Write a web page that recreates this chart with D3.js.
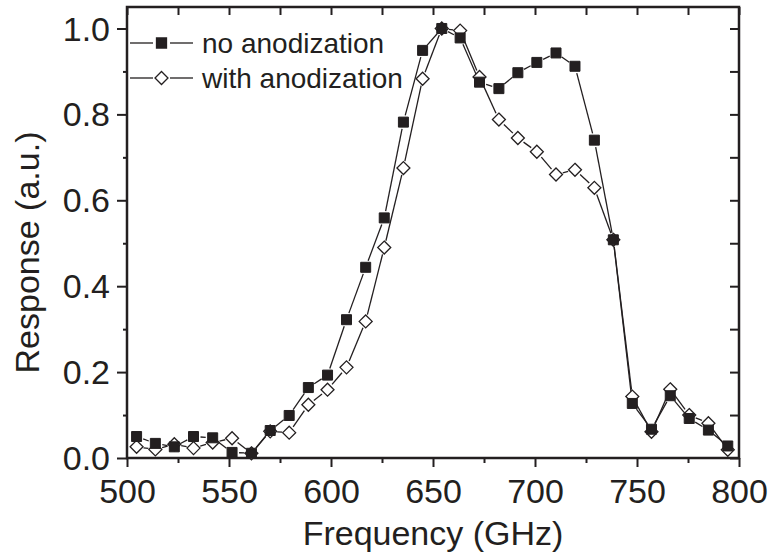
<!DOCTYPE html>
<html>
<head>
<meta charset="utf-8">
<script src="https://cdn.jsdelivr.net/npm/d3@7"></script>
<style>
  html, body { margin: 0; padding: 0; background: #fff; }
  svg { display: block; }
  text { font-family: "Liberation Sans", Arial, Helvetica, sans-serif; fill: #231f20; }
</style>
</head>
<body>
<svg id="chart" width="771" height="555"></svg>
<script>
// Measured frequencies (GHz)
const frequency = [504.7, 513.9, 523.2, 532.6, 542.0, 551.5, 561.0, 570.2, 579.5, 588.9,
  598.3, 607.6, 617.0, 626.1, 635.5, 644.9, 654.3, 663.3, 672.8, 682.3,
  691.6, 700.9, 710.3, 719.6, 729.1, 738.4, 747.7, 757.1, 766.3, 775.6,
  785.0, 794.5];

// Normalised response without anodization
const noAnodization = [0.050, 0.034, 0.026, 0.050, 0.047, 0.013, 0.011, 0.064, 0.099, 0.164,
  0.193, 0.322, 0.444, 0.559, 0.782, 0.949, 1.000, 0.978, 0.875, 0.860,
  0.897, 0.921, 0.943, 0.912, 0.740, 0.508, 0.127, 0.067, 0.145, 0.092,
  0.065, 0.028];

// Normalised response with anodization
const withAnodization = [0.026, 0.020, 0.032, 0.023, 0.036, 0.046, 0.011, 0.062, 0.059, 0.124,
  0.159, 0.211, 0.318, 0.490, 0.675, 0.883, 1.000, 0.995, 0.887, 0.788,
  0.745, 0.713, 0.660, 0.671, 0.629, 0.508, 0.143, 0.061, 0.160, 0.100,
  0.081, 0.019];

const seriesNames = ["no anodization", "with anodization"];
const xTickLabels = [500, 550, 600, 650, 700, 750, 800];
const yTickLabels = [0.0, 0.2, 0.4, 0.6, 0.8, 1.0];

const ink = "#231f20";
const svg = d3.select("#chart");
const plot = { left: 127, right: 739, top: 7, bottom: 458 };

const x = d3.scaleLinear().domain([500, 800]).range([plot.left, plot.right]);
const y = d3.scaleLinear().domain([0, 1.05]).range([plot.bottom, plot.top]);

const minorX = d3.range(500, 800.1, 25);
const minorY = d3.range(0, 1.001, 0.1).map(v => +v.toFixed(1));
const isYLabel = d => yTickLabels.some(v => Math.abs(v - d) < 1e-9);

// Bottom axis: long outward ticks at labels, short ones in between
const axisBottomG = svg.append("g").attr("transform", `translate(0,${plot.bottom})`);
axisBottomG.call(d3.axisBottom(x).tickValues(minorX).tickSize(5).tickFormat(""));
axisBottomG.selectAll(".tick line").filter(d => xTickLabels.includes(d)).attr("y2", 9);
axisBottomG.selectAll(".tick line").attr("stroke", ink).attr("stroke-width", 2);
axisBottomG.select(".domain").remove();
axisBottomG.selectAll(".tick").filter(d => xTickLabels.includes(d))
  .append("text")
  .attr("y", 45).attr("text-anchor", "middle")
  .style("font-size", "34px")
  .text(d => d3.format("d")(d));

// Left axis
const axisLeftG = svg.append("g").attr("transform", `translate(${plot.left},0)`);
axisLeftG.call(d3.axisLeft(y).tickValues(minorY).tickSize(4).tickFormat(""));
axisLeftG.selectAll(".tick line").filter(isYLabel).attr("x2", -10);
axisLeftG.selectAll(".tick line").attr("stroke", ink).attr("stroke-width", 2);
axisLeftG.select(".domain").remove();
axisLeftG.selectAll(".tick").filter(isYLabel)
  .append("text")
  .attr("x", -17).attr("dy", "0.34em").attr("text-anchor", "end")
  .style("font-size", "34px")
  .text(d => d3.format(".1f")(d));

// Top and right axes: inward ticks only
const axisTopG = svg.append("g").attr("transform", `translate(0,${plot.top})`);
axisTopG.call(d3.axisBottom(x).tickValues(minorX).tickSize(8).tickFormat(""));
axisTopG.selectAll(".tick line").attr("stroke", ink).attr("stroke-width", 2);
axisTopG.select(".domain").remove();

const axisRightG = svg.append("g").attr("transform", `translate(${plot.right},0)`);
axisRightG.call(d3.axisLeft(y).tickValues(minorY).tickSize(9).tickFormat(""));
axisRightG.selectAll(".tick line").attr("stroke", ink).attr("stroke-width", 2);
axisRightG.select(".domain").remove();

// Frame
svg.append("rect")
  .attr("x", plot.left).attr("y", plot.top)
  .attr("width", plot.right - plot.left).attr("height", plot.bottom - plot.top)
  .attr("fill", "none").attr("stroke", ink).attr("stroke-width", 2.5);

// Axis titles
svg.append("text")
  .attr("x", (plot.left + plot.right) / 2).attr("y", 545)
  .attr("text-anchor", "middle").style("font-size", "34px")
  .text("Frequency (GHz)");
svg.append("text")
  .attr("transform", `translate(39,${(plot.top + plot.bottom) / 2 + 20}) rotate(-90)`)
  .attr("text-anchor", "middle").style("font-size", "34px")
  .text("Response (a.u.)");

// Connecting segments, trimmed so they stop short of each marker
function drawSegments(values, gap) {
  const pts = frequency.map((f, i) => [x(f), y(values[i])]);
  const segs = [];
  for (let i = 0; i < pts.length - 1; i++) {
    const [x0, y0] = pts[i], [x1, y1] = pts[i + 1];
    const len = Math.hypot(x1 - x0, y1 - y0);
    if (len <= 2 * gap) continue;
    const ux = (x1 - x0) / len, uy = (y1 - y0) / len;
    segs.push([x0 + ux * gap, y0 + uy * gap, x1 - ux * gap, y1 - uy * gap]);
  }
  svg.append("g").selectAll("line").data(segs).join("line")
    .attr("x1", d => d[0]).attr("y1", d => d[1])
    .attr("x2", d => d[2]).attr("y2", d => d[3])
    .attr("stroke", ink).attr("stroke-width", 1.3);
}

// Square rotated 45 degrees: equal width and height
const squareDiamond = {
  draw(context, size) {
    const r = Math.sqrt(size / 2);
    context.moveTo(0, -r);
    context.lineTo(r, 0);
    context.lineTo(0, r);
    context.lineTo(-r, 0);
    context.closePath();
  }
};
const diamond = d3.symbol().type(squareDiamond).size(84);
const square = d3.symbol().type(d3.symbolSquare).size(100);

drawSegments(withAnodization, 7);
drawSegments(noAnodization, 7);

// Open diamonds: with anodization
svg.append("g").selectAll("path").data(withAnodization).join("path")
  .attr("d", diamond)
  .attr("transform", (d, i) => `translate(${x(frequency[i])},${y(d)})`)
  .attr("fill", "#fff").attr("stroke", ink).attr("stroke-width", 1.3);

// Filled squares: no anodization
svg.append("g").selectAll("path").data(noAnodization).join("path")
  .attr("d", square)
  .attr("transform", (d, i) => `translate(${x(frequency[i])},${y(d)})`)
  .attr("fill", ink).attr("stroke", ink).attr("stroke-width", 1);

// Legend
const legend = svg.append("g");
const legendRows = [
  { name: seriesNames[0], sym: square, fill: ink, y: 43 },
  { name: seriesNames[1], sym: diamond, fill: "#fff", y: 78 }
];
legendRows.forEach(r => {
  legend.append("line").attr("x1", 130).attr("x2", 153).attr("y1", r.y).attr("y2", r.y)
    .attr("stroke", ink).attr("stroke-width", 1.3);
  legend.append("line").attr("x1", 170).attr("x2", 193).attr("y1", r.y).attr("y2", r.y)
    .attr("stroke", ink).attr("stroke-width", 1.3);
  legend.append("path").attr("d", r.sym).attr("transform", `translate(161.5,${r.y})`)
    .attr("fill", r.fill).attr("stroke", ink).attr("stroke-width", 1.3);
  legend.append("text").attr("x", 202).attr("y", r.y + 10)
    .style("font-size", "28px").text(r.name);
});
</script>
</body>
</html>
